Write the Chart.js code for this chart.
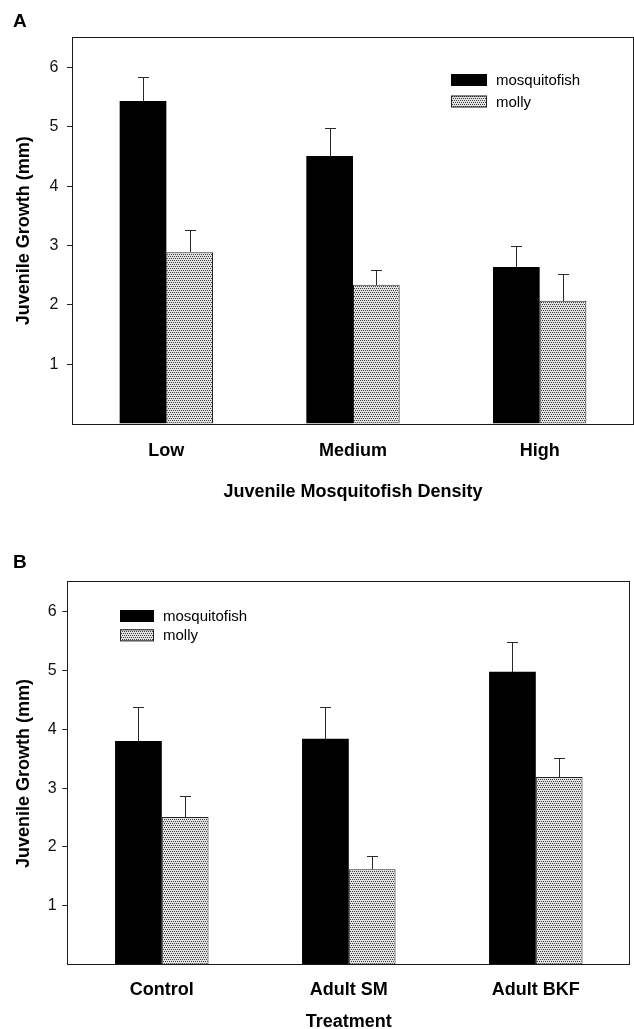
<!DOCTYPE html>
<html><head><meta charset="utf-8">
<script src="https://cdn.jsdelivr.net/npm/chart.js@4/dist/chart.umd.min.js"></script>
<style>
html,body{margin:0;padding:0;background:#fff;overflow:hidden;width:634px;height:1029px}
canvas{position:absolute;left:0}
#ca{top:0}
#cb{top:515px}
</style></head><body>
<canvas id="ca" width="634" height="515"></canvas>
<canvas id="cb" width="634" height="530"></canvas>
<script>
// ---- data ----
const seriesNames = ['mosquitofish', 'molly'];
const densityCategories = ['Low', 'Medium', 'High'];
const densityMosquitofish = [5.44, 4.51, 2.64];
const densityMosquitofishErr = [0.40, 0.47, 0.36];
const densityMolly = [2.89, 2.34, 2.07];
const densityMollyErr = [0.37, 0.25, 0.46];
const treatmentCategories = ['Control', 'Adult SM', 'Adult BKF'];
const treatmentMosquitofish = [3.80, 3.84, 4.98];
const treatmentMosquitofishErr = [0.58, 0.54, 0.50];
const treatmentMolly = [2.51, 1.62, 3.19];
const treatmentMollyErr = [0.36, 0.22, 0.32];
const yTickValues = [1, 2, 3, 4, 5, 6];
const yMin = 0, yMax = 6.5;

const FONT = "'Liberation Sans', Arial, sans-serif";

function makePattern() {
  const c = document.createElement('canvas');
  c.width = 2; c.height = 4;
  const g = c.getContext('2d');
  g.fillStyle = '#e2e2e2'; g.fillRect(0, 0, 2, 4);
  g.fillStyle = '#3c3c3c'; g.fillRect(0, 0, 1, 1); g.fillRect(1, 2, 1, 1);
  return g.createPattern(c, 'repeat');
}

const framePlugin = {
  id: 'frame',
  afterDraw(chart) {
    const a = chart.chartArea, ctx = chart.ctx;
    ctx.save();
    ctx.strokeStyle = '#1a1a1a';
    ctx.lineWidth = 1;
    ctx.strokeRect(Math.round(a.left) - 0.5, Math.round(a.top) - 0.5,
                   Math.round(a.right - a.left) + 1, Math.round(a.bottom - a.top) + 1);
    ctx.restore();
  }
};

const errorBarPlugin = {
  id: 'errbars',
  afterDatasetsDraw(chart) {
    const ctx = chart.ctx, ys = chart.scales.y;
    ctx.save();
    ctx.strokeStyle = '#2a2a2a';
    ctx.lineWidth = 1;
    chart.data.datasets.forEach((ds, i) => {
      const meta = chart.getDatasetMeta(i);
      meta.data.forEach((el, j) => {
        const top = ys.getPixelForValue(ds.data[j] + ds.errors[j]);
        const x = Math.round(el.x) + 0.5;
        const y0 = Math.round(el.y), y1 = Math.round(top) + 0.5;
        ctx.beginPath();
        ctx.moveTo(x, y0); ctx.lineTo(x, y1);
        ctx.moveTo(x - 5.5, y1); ctx.lineTo(x + 5.5, y1);
        ctx.stroke();
      });
    });
    ctx.restore();
  }
};

const legendPlugin = {
  id: 'boxLegend',
  afterDraw(chart, args, opts) {
    const ctx = chart.ctx;
    ctx.save();
    chart.data.datasets.forEach((ds, i) => {
      const bx = opts.x, by = opts.y + i * opts.rowGap;
      ctx.fillStyle = ds.backgroundColor;
      ctx.fillRect(bx, by, opts.boxW, opts.boxH);
      if (ds.borderWidth) {
        ctx.strokeStyle = ds.borderColor; ctx.lineWidth = 1;
        ctx.strokeRect(bx + 0.5, by + 0.5, opts.boxW - 1, opts.boxH - 1);
      }
      ctx.fillStyle = '#000';
      ctx.font = '15px ' + FONT;
      ctx.textBaseline = 'middle';
      ctx.textAlign = 'left';
      ctx.fillText(ds.label, bx + opts.boxW + 9, by + opts.boxH / 2 + 1);
    });
    ctx.restore();
  }
};

function build(canvasId, p) {
  const pattern = makePattern();
  return new Chart(document.getElementById(canvasId), {
    type: 'bar',
    data: {
      labels: p.categories,
      datasets: [
        { label: seriesNames[0], data: p.mosq, errors: p.mosqErr,
          backgroundColor: '#000', borderWidth: 0,
          barPercentage: 1, categoryPercentage: 0.5 },
        { label: seriesNames[1], data: p.molly, errors: p.mollyErr,
          backgroundColor: pattern, borderColor: '#222', borderWidth: 1, borderSkipped: false,
          barPercentage: 1, categoryPercentage: 0.5 }
      ]
    },
    options: {
      responsive: false,
      animation: false,
      layout: { padding: p.padding },
      plugins: {
        legend: { display: false },
        tooltip: { enabled: false },
        title: { display: true, text: p.letter, align: 'start', color: '#000',
                 font: { family: FONT, size: 19, weight: 'bold' },
                 padding: { top: 0, bottom: p.titleGap } },
        boxLegend: p.legend
      },
      scales: {
        x: {
          grid: { display: false }, border: { display: false },
          ticks: { color: '#000', padding: p.xTickPad,
                   font: { family: FONT, size: 18, weight: 'bold' } },
          title: { display: true, text: p.xTitle, color: '#000',
                   font: { family: FONT, size: 18, weight: 'bold' },
                   padding: { top: 0, bottom: p.xTitleGap } },
          afterFit(s) { s.height = p.xHeight; }
        },
        y: {
          min: yMin, max: yMax,
          afterBuildTicks(s) { s.ticks = yTickValues.map(v => ({ value: v })); },
          grid: { drawOnChartArea: false, drawTicks: true, tickLength: 6, color: '#222' },
          border: { display: false },
          ticks: { color: '#111', padding: p.yTickPad,
                   font: { family: FONT, size: 16 } },
          title: { display: true, text: 'Juvenile Growth (mm)', color: '#000',
                   font: { family: FONT, size: 18, weight: 'bold' },
                   padding: { top: 0, bottom: 0 } },
          afterFit(s) { s.width = p.yWidth; }
        }
      }
    },
    plugins: [errorBarPlugin, framePlugin, legendPlugin]
  });
}

build('ca', {
  letter: 'A',
  categories: densityCategories,
  mosq: densityMosquitofish, mosqErr: densityMosquitofishErr,
  molly: densityMolly, mollyErr: densityMollyErr,
  xTitle: 'Juvenile Mosquitofish Density',
  padding: { left: 13, top: 10.4, right: 1, bottom: 0 },
  titleGap: 4.8,
  yWidth: 60, yTickPad: 8.7,
  xHeight: 91.4, xTickPad: 8.5, xTitleGap: 12.2,
  legend: { x: 451, y: 74, boxW: 36, boxH: 12, rowGap: 21.5 }
});

build('cb', {
  letter: 'B',
  categories: treatmentCategories,
  mosq: treatmentMosquitofish, mosqErr: treatmentMosquitofishErr,
  molly: treatmentMolly, mollyErr: treatmentMollyErr,
  xTitle: 'Treatment',
  padding: { left: 13, top: 36.6, right: 4.7, bottom: 0 },
  titleGap: 7.9,
  yWidth: 55.3, yTickPad: 5.6,
  xHeight: 80.4, xTickPad: 6.8, xTitleGap: 12.2,
  legend: { x: 120, y: 95, boxW: 34, boxH: 12, rowGap: 19.3 }
});
</script>
</body></html>
